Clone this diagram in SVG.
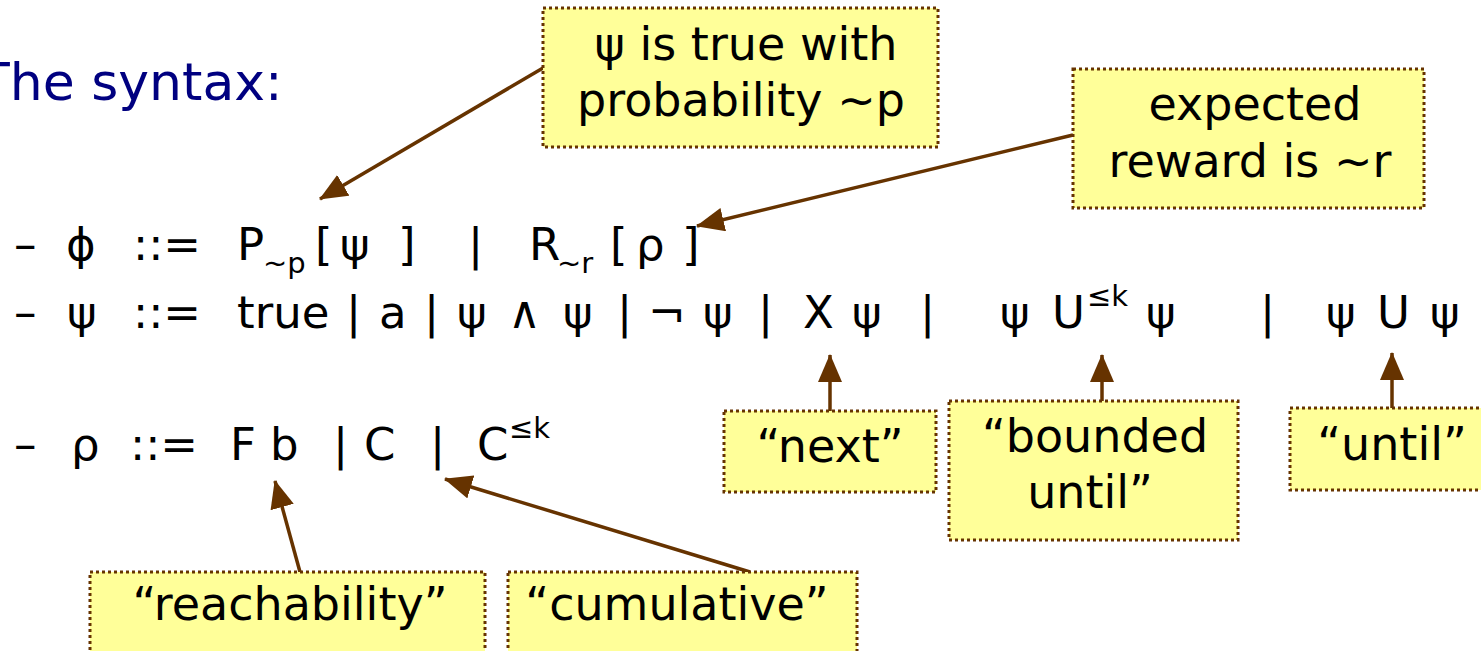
<svg xmlns="http://www.w3.org/2000/svg" width="1481" height="651" viewBox="0 0 1481 651">
<defs>
<style>
.t{font-family:"DejaVu Sans","Liberation Sans",sans-serif;fill:#000}
.m{font-size:45px}
.s{font-size:29px}
.b{font-size:46px;text-anchor:middle}
.title{font-family:"DejaVu Sans","Liberation Sans",sans-serif;font-size:52px;fill:#000080}
.box{fill:#ffff99;stroke:#663300;stroke-width:3;stroke-dasharray:3 3}
.c{stroke:#663300;stroke-width:3.5;fill:none;marker-end:url(#ah)}
</style>
<marker id="ah" markerUnits="userSpaceOnUse" markerWidth="28" markerHeight="24" refX="27" refY="12" orient="auto">
<path d="M0,0 L28,12 L0,24 z" fill="#663300"/>
</marker>
</defs>
<rect width="1481" height="651" fill="#fff"/>
<text class="title" x="-22" y="100">The syntax:</text>

<g id="formula-phi" class="t m">
<text x="14" y="260">–</text>
<text x="66" y="260">ϕ</text>
<text x="133" y="260">::=</text>
<text x="237" y="260">P</text>
<text class="s" x="263" y="273">~p</text>
<text x="315" y="260">[</text>
<text x="340" y="260">ψ</text>
<text x="398" y="260">]</text>
<text x="468" y="260">|</text>
<text x="529" y="260">R</text>
<text class="s" x="557" y="273">~r</text>
<text x="610" y="260">[</text>
<text x="636" y="260">ρ</text>
<text x="682" y="260">]</text>
</g>

<g id="formula-psi" class="t m">
<text x="14" y="328">–</text>
<text x="67" y="328">ψ</text>
<text x="133" y="328">::=</text>
<text x="237" y="328">true</text>
<text x="346" y="328">|</text>
<text x="379" y="328">a</text>
<text x="424" y="328">|</text>
<text x="457" y="328">ψ</text>
<text x="508" y="328">∧</text>
<text x="563" y="328">ψ</text>
<text x="617" y="328">|</text>
<text x="648" y="328">¬</text>
<text x="703" y="328">ψ</text>
<text x="758" y="328">|</text>
<text x="803" y="328">X</text>
<text x="852" y="328">ψ</text>
<text x="920" y="328">|</text>
<text x="1000" y="328">ψ</text>
<text x="1052" y="328">U</text>
<text class="s" x="1087" y="306">≤k</text>
<text x="1146" y="328">ψ</text>
<text x="1260" y="328">|</text>
<text x="1326" y="328">ψ</text>
<text x="1377" y="328">U</text>
<text x="1430" y="328">ψ</text>
</g>

<g id="formula-rho" class="t m">
<text x="14" y="460">–</text>
<text x="71" y="460">ρ</text>
<text x="130" y="460">::=</text>
<text x="230" y="460">F</text>
<text x="270" y="460">b</text>
<text x="333" y="460">|</text>
<text x="364" y="460">C</text>
<text x="430" y="460">|</text>
<text x="477" y="460">C</text>
<text class="s" x="509" y="438">≤k</text>
</g>

<g id="connectors">
<line class="c" x1="543" y1="68" x2="320" y2="199"/>
<line class="c" x1="1073" y1="135" x2="697" y2="226"/>
<line class="c" x1="830" y1="411" x2="830" y2="355"/>
<line class="c" x1="1102" y1="401" x2="1102" y2="355"/>
<line class="c" x1="1392" y1="408" x2="1392" y2="353"/>
<line class="c" x1="300" y1="572" x2="275" y2="481"/>
<line class="c" x1="750" y1="572" x2="445" y2="479"/>
</g>

<g id="note-prob">
<rect class="box" x="543" y="8" width="395" height="139"/>
<text class="t b" x="746" y="60">ψ is true with</text>
<text class="t b" x="741" y="116">probability ~p</text>
</g>
<g id="note-reward">
<rect class="box" x="1073" y="69" width="351" height="139"/>
<text class="t b" x="1255" y="120">expected</text>
<text class="t b" x="1250" y="177">reward is ~r</text>
</g>
<g id="note-next">
<rect class="box" x="724" y="411" width="212" height="81"/>
<text class="t b" x="830" y="462">“next”</text>
</g>
<g id="note-bounded">
<rect class="box" x="949" y="401" width="289" height="139"/>
<text class="t b" x="1095" y="452">“bounded</text>
<text class="t b" x="1090" y="508">until”</text>
</g>
<g id="note-until">
<rect class="box" x="1290" y="408" width="200" height="82"/>
<text class="t b" x="1392" y="460">“until”</text>
</g>
<g id="note-reach">
<rect class="box" x="90" y="572" width="395" height="100"/>
<text class="t b" x="290" y="620">“reachability”</text>
</g>
<g id="note-cumul">
<rect class="box" x="508" y="572" width="349" height="100"/>
<text class="t b" x="677" y="620">“cumulative”</text>
</g>
</svg>
